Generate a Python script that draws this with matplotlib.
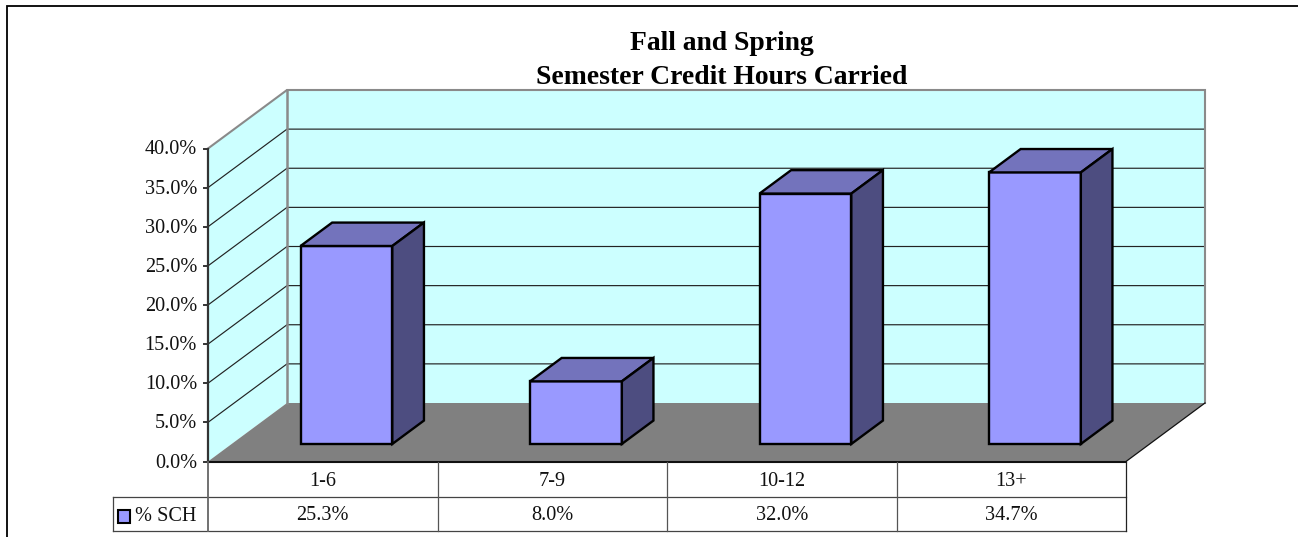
import matplotlib
matplotlib.use("Agg")
import matplotlib.pyplot as plt
from matplotlib.patches import Polygon

categories = ["1-6", "7-9", "10-12", "13+"]
series_name = "% SCH"
sch_percent = [25.3, 8.0, 32.0, 34.7]
y_ticks = [0, 5, 10, 15, 20, 25, 30, 35, 40]
title_line_1 = "Fall and Spring"
title_line_2 = "Semester Credit Hours Carried"

W, H = 1298, 537
plt.rcParams["font.family"] = ["Liberation Serif", "DejaVu Serif"]
fig = plt.figure(figsize=(W / 100, H / 100), dpi=100, facecolor="white")

# page overlay in pixels (frame, title, table)
pg = fig.add_axes([0, 0, 1, 1], zorder=3)
pg.set_xlim(0, W); pg.set_ylim(H, 0); pg.axis("off"); pg.patch.set_alpha(0)

# data axes: front plane of the 3-D box
L, R, B, T = 208, 1126, 461.5, 148.5
ax = fig.add_axes([L / W, 1 - B / H, (R - L) / W, (B - T) / H], zorder=2)
ax.set_xlim(0, len(categories)); ax.set_ylim(0, 40); ax.axis("off")

DX = 79 / ((R - L) / len(categories))   # depth offset in category units
DY = 58.5 / ((B - T) / 40)              # depth offset in value units
def p(x, y, d=0.0):
    return (x + d * DX, y + d * DY)
def poly(pts, **kw):
    ax.add_patch(Polygon(pts, closed=True, clip_on=False, **kw))
n = len(categories)
ymax = y_ticks[-1]
WALL, FLOOR, GREY = "#CCFFFF", "#808080", "#8a8a8a"
FS = 14.6

# walls
poly([p(0, 0), p(0, 0, 1), p(0, ymax, 1), p(0, ymax)], fc=WALL, ec="none", zorder=1)
poly([p(0, 0, 1), p(n, 0, 1), p(n, ymax, 1), p(0, ymax, 1)], fc=WALL, ec="none", zorder=1)
# floor
poly([p(0, 0), p(0, 0, 1), p(n, 0, 1), p(n, 0)], fc=FLOOR, ec="none", zorder=2)

# gridlines
for v in y_ticks[1:-1]:
    xs, ys = zip(p(0, v), p(0, v, 1), p(n, v, 1))
    ax.plot(xs, ys, color="#222222", lw=0.85, zorder=3, clip_on=False)

# wall borders
xs, ys = zip(p(0, ymax), p(0, ymax, 1), p(n, ymax, 1), p(n, 0, 1))
ax.plot(xs, ys, color=GREY, lw=1.5, zorder=3, clip_on=False, solid_joinstyle="miter")
xs, ys = zip(p(0, ymax, 1), p(0, 0, 1))
ax.plot(xs, ys, color=GREY, lw=1.8, zorder=3, clip_on=False)
xs, ys = zip(p(0, 0), p(n, 0))
ax.plot(xs, ys, color="#111111", lw=1.5, zorder=4, clip_on=False)
xs, ys = zip(p(n, 0), p(n, 0, 1))
ax.plot(xs, ys, color="#111111", lw=0.9, zorder=4, clip_on=False)
ax.plot([0, 0], [0, ymax], color="#333333", lw=1.6, zorder=4, clip_on=False)

# value axis ticks and labels
tick_len = 4.5 / ((R - L) / n)
lab_shift = 1.5 / ((B - T) / 40)
for v in y_ticks:
    ax.plot([-tick_len, 0], [v, v], color="#333333", lw=1.4, zorder=4, clip_on=False)
    ax.text(-11 / ((R - L) / n), v - lab_shift, f"{v:.1f}%", ha="right", va="center",
            fontsize=FS, color="#111111", clip_on=False)

# 3-D columns
bw, d0, d1 = 0.40, 0.30, 0.70
EC = dict(ec="black", lw=1.7, joinstyle="miter", zorder=5)
for i, v in enumerate(sch_percent):
    x0, x1 = i + 0.5 - bw / 2, i + 0.5 + bw / 2
    poly([p(x0, 0, d0), p(x1, 0, d0), p(x1, v, d0), p(x0, v, d0)], fc="#9999FF", **EC)
    poly([p(x0, v, d0), p(x1, v, d0), p(x1, v, d1), p(x0, v, d1)], fc="#7373BC", **EC)
    poly([p(x1, 0, d0), p(x1, 0, d1), p(x1, v, d1), p(x1, v, d0)], fc="#4D4D80", **EC)

# chart frame (open at right and bottom)
pg.plot([7, 7, W], [H, 6, 6], color="black", lw=1.3, solid_joinstyle="miter")

# title
pg.text(722, 43, title_line_1, ha="center", va="center", fontsize=19.9,
        fontweight="bold", color="black")
pg.text(722, 77, title_line_2, ha="center", va="center", fontsize=19.9,
        fontweight="bold", color="black")

# data table
row0, row1, row2 = 461.5, 497, 531
cw = (R - L) / n
col = "#444444"
pg.plot([113, R], [row1, row1], color=col, lw=0.9)
pg.plot([113, R], [row2, row2], color=col, lw=0.9)
pg.plot([113, 113], [row1, row2], color=col, lw=0.9)
pg.plot([L, L], [row0, row2], color="#666666", lw=1.3)
pg.plot([R, R], [row0, row2], color="#222222", lw=0.9)
for i in range(1, n):
    pg.plot([L + i * cw] * 2, [row0, row2], color="#555555", lw=0.9)
for i, (c, v) in enumerate(zip(categories, sch_percent)):
    cx = L + (i + 0.5) * cw
    pg.text(cx, (row0 + row1) / 2 + 2.5, c, ha="center", va="center", fontsize=FS, color="#111111")
    pg.text(cx, (row1 + row2) / 2 + 2.0, f"{v:.1f}%", ha="center", va="center", fontsize=FS, color="#111111")

# legend key
pg.add_patch(Polygon([(118, 510), (130, 510), (130, 522.5), (118, 522.5)], closed=True,
                     fc="#9999FF", ec="black", lw=1.5))
pg.text(135, (row1 + row2) / 2 + 2.5, series_name, ha="left", va="center", fontsize=FS, color="#111111")

fig.savefig("out.png", dpi=100, facecolor="white")
